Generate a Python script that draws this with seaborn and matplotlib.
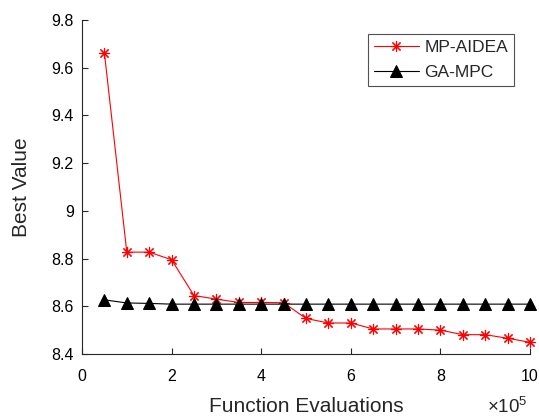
import numpy as np
import pandas as pd
import matplotlib
matplotlib.use("Agg")
import matplotlib.pyplot as plt
import seaborn as sns

# Function evaluations (x 1e5)
evals = [0.5, 1.0, 1.5, 2.0, 2.5, 3.0, 3.5, 4.0, 4.5, 5.0,
         5.5, 6.0, 6.5, 7.0, 7.5, 8.0, 8.5, 9.0, 9.5, 10.0]
mp_aidea = [9.662, 8.827, 8.827, 8.795, 8.645, 8.630, 8.616, 8.616, 8.615, 8.549,
            8.530, 8.530, 8.505, 8.505, 8.505, 8.500, 8.481, 8.481, 8.466, 8.449]
ga_mpc = [8.627, 8.614, 8.612, 8.609, 8.609, 8.609, 8.609, 8.609, 8.609, 8.609,
          8.609, 8.609, 8.609, 8.609, 8.609, 8.609, 8.609, 8.609, 8.609, 8.609]
series_names = ["MP-AIDEA", "GA-MPC"]
xticks = [0, 2, 4, 6, 8, 10]
yticks = [8.4, 8.6, 8.8, 9.0, 9.2, 9.4, 9.6, 9.8]
ytick_labels = ["8.4", "8.6", "8.8", "9", "9.2", "9.4", "9.6", "9.8"]

df_a = pd.DataFrame({"x": evals, "y": mp_aidea})
df_g = pd.DataFrame({"x": evals, "y": ga_mpc})

sns.set_theme(style="ticks")
plt.rcParams["font.family"] = ["Liberation Sans", "DejaVu Sans"]
plt.rcParams["mathtext.fontset"] = "custom"
plt.rcParams["mathtext.rm"] = "Liberation Sans"

fig = plt.figure(figsize=(5.39, 4.17), dpi=100)
L, R, T, B = 82, 530, 20, 354
W, H = R - L, B - T
ax = fig.add_axes([L / 539, 1 - B / 417, W / 539, H / 417])

sns.lineplot(data=df_a, x="x", y="y", color="#ff0000", marker=(8, 2, 0),
             markersize=8, markeredgewidth=0.8, markeredgecolor="#ff0000",
             linewidth=0.8, ax=ax, label=series_names[0], clip_on=False)
sns.lineplot(data=df_g, x="x", y="y", color="black", marker="^",
             markersize=8.2, markerfacecolor="black", markeredgecolor="black",
             linewidth=0.8, ax=ax, label=series_names[1], clip_on=False)

lines = ax.get_lines()

ax.set_xlim(0, 10)
ax.set_ylim(8.4, 9.8)
ax.set_xticks(xticks)
ax.set_yticks(yticks)
ax.set_yticklabels(ytick_labels)
ax.tick_params(direction="in", length=4, width=0.8, labelsize=11.5,
               colors="#262626", labelcolor="black")
ax.tick_params(axis="x", pad=11)
ax.tick_params(axis="y", pad=6)
for s in ["left", "bottom"]:
    ax.spines[s].set_color("#262626")
    ax.spines[s].set_linewidth(0.8)
sns.despine(ax=ax)

ax.set_xlabel("Function Evaluations", fontsize=15)
ax.xaxis.label.set_va("baseline")
ax.xaxis.set_label_coords(0.5, -(412 - B) / H)
ax.set_ylabel("Best Value", fontsize=15)
ax.yaxis.label.set_va("baseline")
ax.yaxis.set_label_coords(-(L - 27) / W, 0.5)
ax.text((528 - L) / W, -(413 - B) / H, r"$\times10^{5}$", transform=ax.transAxes,
        ha="right", va="baseline", fontsize=13.5)

leg = ax.legend(handles=lines[:2], labels=series_names, loc="upper right",
                bbox_to_anchor=((514 - L) / W, 1 - (34 - T) / H), fontsize=12.5,
                frameon=True, fancybox=False, edgecolor="#262626",
                borderaxespad=0, handlelength=2.6, handletextpad=0.3,
                borderpad=0.35, labelspacing=0.55)
leg.get_frame().set_linewidth(0.8)

fig.savefig("out.png", dpi=100)
